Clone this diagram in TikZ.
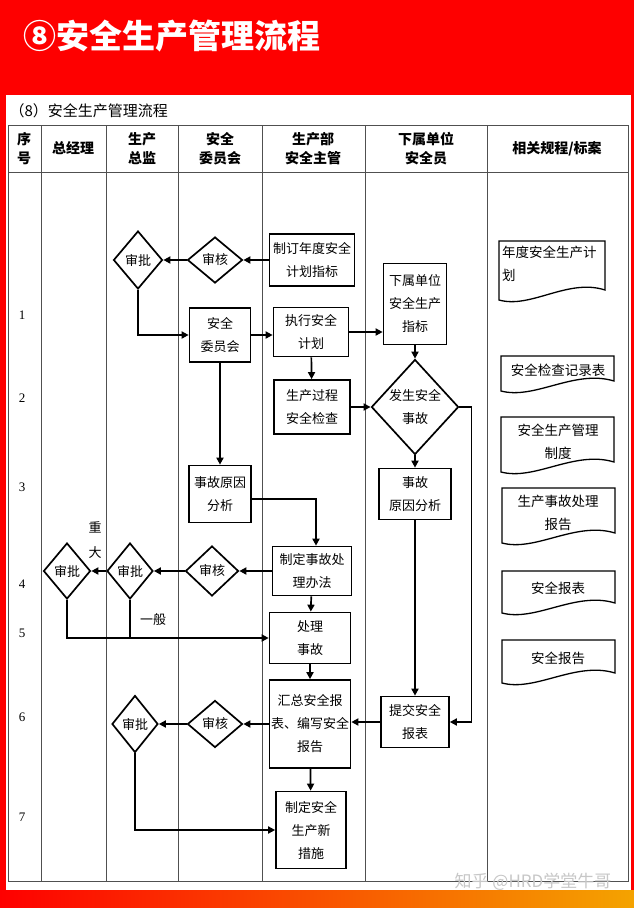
\documentclass[tikz,border=0pt]{standalone}
\usepackage{fontspec}
\setmainfont{Noto Sans CJK SC}
\newfontfamily\numfont{Liberation Serif}
\usetikzlibrary{shapes.geometric,arrows.meta}
\definecolor{bannerred}{HTML}{FE0000}
\definecolor{bannerorange}{HTML}{F4A300}
\definecolor{gridgray}{HTML}{505050}

\tikzset{
  box/.style={draw, line width=1.7pt, align=center, inner sep=0pt, font=\fontsize{13}{23}\selectfont},
  decision/.style={diamond, draw, line width=1.7pt, align=center, inner sep=0pt, font=\fontsize{13}{23}\selectfont},
  flow/.style={line width=1.7pt, -{Triangle[length=7pt,width=7pt]}},
  link/.style={line width=1.7pt},
  grid/.style={draw=gridgray, line width=0.9pt},
  doc/.style={line width=1.3pt},
  doctext/.style={font=\fontsize{13.5}{23}\selectfont, align=left, inner sep=0pt},
  headtext/.style={font=\bfseries\fontsize{14}{19}\selectfont, align=center},
  rownum/.style={font=\numfont\fontsize{13}{13}\selectfont}
}

% document symbol: left, right, top, bottom of left side
\newcommand{\docpage}[4]{%
  \draw[doc] (#1,#4) -- (#1,#3) -- (#2,#3) -- ({#2},{#4-10})
    .. controls ({#1+0.65*(#2-#1)},{#4-22}) and ({#1+0.3*(#2-#1)},{#4+9}) .. (#1,#4) -- cycle;}

\begin{document}
\begin{tikzpicture}[x=1pt,y=-1pt]
\useasboundingbox (0,0) rectangle (634,908);

% frame
\fill[bannerred] (0,0) rectangle (634,908);
\shade[left color=bannerred, right color=bannerorange] (0,890) rectangle (634,908);
\fill[white] (6,95) rectangle (631,890);
\node[anchor=west, text=white, font=\bfseries\fontsize{33}{33}\selectfont] (title) at (20,36) {⑧安全生产管理流程};
\node[anchor=west, font=\fontsize{15}{15}\selectfont] (subtitle) at (6,111) {（8）安全生产管理流程};

% lanes
\draw[grid] (8,125) rectangle (628,881);
\draw[grid] (8,172) -- (628,172);
\foreach \x in {41,106,178,262,365,487}{
  \draw[grid] (\x,125) -- (\x,881);
}

% header
\node[headtext] (hno) at (24,149) {序\\号};
\node[headtext] (hgm) at (73,148) {总经理};
\node[headtext] (hpd) at (142,149) {生产\\总监};
\node[headtext] (hsc) at (220,149) {安全\\委员会};
\node[headtext] (hpm) at (313,149) {生产部\\安全主管};
\node[headtext] (hso) at (426,149) {下属单位\\安全员};
\node[headtext] (hdoc) at (557,149) {相关规程/标案};

\foreach \y/\n in {315/1,398/2,487/3,584/4,633/5,717/6,817/7}{
  \node[rownum] (row\n) at (22,\y) {\n};
}

% step 1
\node[box, minimum width=85, minimum height=52] (plan) at (312,260) {制订年度安全\\计划指标};
\node[decision, minimum width=55, minimum height=46] (chk1) at (215,260) {审核};
\node[decision, minimum width=49, minimum height=58] (apr1) at (138,260) {审批};
\node[box, minimum width=61, minimum height=54] (comm) at (220,335) {安全\\委员会};
\node[box, minimum width=75, minimum height=49] (exec) at (311,332) {执行安全\\计划};
\node[box, minimum width=63, minimum height=81] (target) at (415,304) {下属单位\\安全生产\\指标};

% step 2
\node[box, minimum width=76, minimum height=54] (inspect) at (312,407) {生产过程\\安全检查};
\node[decision, minimum width=85, minimum height=95] (acc) at (415,407) {发生安全\\事故};

% step 3
\node[box, minimum width=62, minimum height=57] (cause1) at (220,494) {事故原因\\分析};
\node[box, minimum width=72, minimum height=51] (cause2) at (415,494) {事故\\原因分析};

% step 4, 5
\node[box, minimum width=79, minimum height=49] (method) at (312,571) {制定事故处\\理办法};
\node[decision, minimum width=53, minimum height=50] (chk2) at (212,571) {审核};
\node[decision, minimum width=46, minimum height=56] (apr2) at (130,571) {审批};
\node[decision, minimum width=47, minimum height=56] (apr3) at (67,571) {审批};
\node[font=\fontsize{13}{25}\selectfont, align=center] (major) at (95,540) {重\\大};
\node[font=\fontsize{13}{13}\selectfont] (minor) at (153,620) {一般};
\node[box, minimum width=81, minimum height=51] (handle) at (310,638) {处理\\事故};

% step 6, 7
\node[box, minimum width=81, minimum height=88] (sum) at (310,724) {汇总安全报\\表、编写安全\\报告};
\node[box, minimum width=68, minimum height=51] (report) at (415,722) {提交安全\\报表};
\node[decision, minimum width=55, minimum height=47] (chk3) at (215,724) {审核};
\node[decision, minimum width=46, minimum height=57] (apr4) at (135,724) {审批};
\node[box, minimum width=70, minimum height=77] (newrule) at (311,830) {制定安全\\生产新\\措施};

% connectors
\draw[flow] (plan) -- (chk1);
\draw[flow] (chk1) -- (apr1);
\draw[flow] (apr1.south) |- (comm.west);
\draw[flow] (comm) -- (comm -| exec.west);
\draw[flow] (exec.east) -- (exec.east -| target.west);
\draw[flow] (exec) -- (inspect);
\draw[flow] (target) -- (acc);
\draw[flow] (inspect) -- (acc);
\draw[flow] (acc.east) -- ++(12,0) |- (report.east);
\draw[flow] (acc) -- (cause2);
\draw[flow] (cause2) -- (report);
\draw[flow] (comm) -- (cause1);
\draw[flow] ([yshift=-5]cause1.east) -| ([xshift=4]method.north);
\draw[flow] (method) -- (chk2);
\draw[flow] (chk2) -- (apr2);
\draw[flow] (apr2) -- (apr3);
\draw[flow] (apr3.south) |- (handle.west);
\draw[link] (apr2.south) -- (apr2.south |- handle.west);
\draw[flow] (method) -- (handle);
\draw[flow] (handle) -- (sum);
\draw[flow] (report) -- (report -| sum.east);
\draw[flow] (sum) -- (chk3);
\draw[flow] (chk3) -- (apr4);
\draw[flow] (apr4.south) |- (newrule.west);
\draw[flow] (sum) -- (newrule);

% related documents
\docpage{499}{605}{241}{300}
\node[doctext, anchor=north west] (doc1) at (502,246) {年度安全生产计\\划};
\docpage{501}{614}{356}{391}
\node[doctext] (doc2) at (558,370) {安全检查记录表};
\docpage{501}{614}{417}{472}
\node[doctext, align=center] (doc3) at (558,442) {安全生产管理\\制度};
\docpage{502}{615}{488}{543}
\node[doctext, align=center] (doc4) at (558,513) {生产事故处理\\报告};
\docpage{502}{615}{571}{613}
\node[doctext] (doc5) at (558,588) {安全报表};
\docpage{502}{615}{640}{683}
\node[doctext] (doc6) at (558,658) {安全报告};

\node[font=\fontsize{17}{17}\selectfont, text=black!22] (mark) at (533,882) {知乎 @HRD学堂牛哥};
\end{tikzpicture}
\end{document}
